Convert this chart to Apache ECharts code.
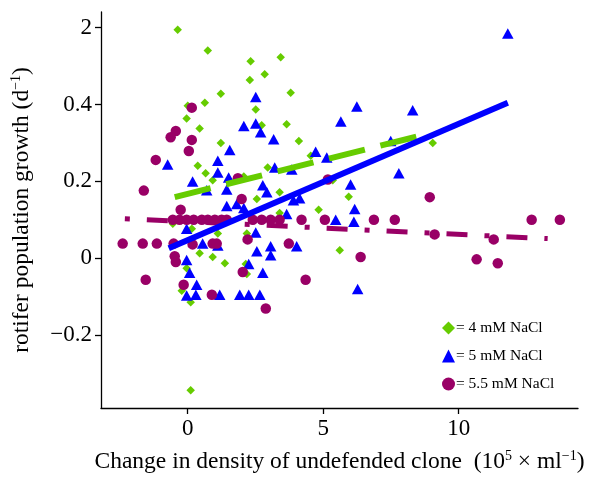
<!DOCTYPE html>
<html><head><meta charset="utf-8">
<script src="https://cdn.jsdelivr.net/npm/echarts@6/dist/echarts.min.js"></script>
<style>html,body{margin:0;padding:0;background:#fff}#c{width:594px;height:480px}</style>
</head><body><div id="c"></div>
<script>
// ---- data ----
var seriesNames = ['4 mM NaCl', '5 mM NaCl', '5.5 mM NaCl'];
var xTickValues = [0, 5, 10];
var yTickValues = [-0.2, 0, 0.2, 0.4, 0.6];
var yTickLabels = ['\u22120.2', '0', '0.2', '0.4', '2'];

var nacl4 = [
  [-0.37,0.595],[0.74,0.541],[2.32,0.513],[3.43,0.523],[2.29,0.464],[2.84,0.479],[1.22,0.428],[3.8,0.431],
  [0,0.397],[0.63,0.405],[-0.04,0.364],[0.44,0.338],[2.51,0.387],[3.65,0.349],[1.22,0.3],[2.73,0.346],
  [4.1,0.305],[0.37,0.241],[0.66,0.221],[0.92,0.203],[2.95,0.236],[3.39,0.172],[4.54,0.267],[9.04,0.30],
  [5.94,0.16],[5.35,0.203],[4.83,0.126],[5.61,0.021],[2.55,0.154],[3.39,0.118],[0.15,0.077],[1.11,0.064],
  [-0.55,0.09],[2.18,0.064],[0.44,0.013],[0.92,0.003],[1.37,-0.013],[2.18,-0.041],[-0.04,-0.026],
  [-0.22,-0.085],[0.11,-0.115],[2.14,-0.015],[0.11,-0.344],[2.07,0.213]
];
var nacl5 = [
  [11.81,0.585],[6.24,0.395],[8.3,0.385],[5.65,0.356],[7.49,0.305],[4.72,0.277],[5.13,0.262],[3.84,0.231],
  [7.79,0.221],[6.01,0.192],[4.13,0.156],[3.9,0.151],[6.16,0.128],[5.46,0.1],[6.13,0.095],[4.02,0.031],
  [6.27,-0.08],[2.51,0.42],[2.07,0.344],[2.51,0.351],[2.69,0.328],[3.17,0.31],[1.55,0.282],[-0.74,0.244],
  [1.11,0.254],[1.11,0.223],[1.51,0.21],[0.18,0.2],[3.21,0.236],[1.44,0.179],[2.77,0.19],[0.7,0.177],
  [2.92,0.172],[1.44,0.136],[1.81,0.141],[2.07,0.131],[-0.04,0.077],[2.51,0.067],[3.65,0.115],[0.55,0.038],
  [1.11,0.033],[2.55,0.018],[3.06,0.031],[3.06,0.008],[-0.04,-0.005],[0.07,-0.038],[2.25,-0.015],
  [2.77,-0.038],[0.33,-0.069],[-0.04,-0.097],[0.3,-0.095],[1.18,-0.095],[1.92,-0.095],[2.25,-0.095],[2.66,-0.095]
];
var nacl55 = [
  [0.15,0.392],[-0.44,0.331],[-0.63,0.315],[0.15,0.308],[0.04,0.279],[-1.18,0.256],[1.85,0.208],[-1.62,0.176],
  [-0.26,0.126],[1.99,0.154],[8.93,0.159],[5.17,0.205],
  [-0.55,0.1],[-0.3,0.1],[-0.04,0.1],[0.22,0.1],[0.52,0.1],[0.74,0.1],[1.0,0.1],[1.25,0.1],[1.44,0.1],
  [2.4,0.1],[2.73,0.1],[3.06,0.1],[3.39,0.1],[4.2,0.1],[5.06,0.1],[6.87,0.1],[7.64,0.1],[12.69,0.1],[13.73,0.1],
  [-2.4,0.038],[-1.66,0.038],[-1.14,0.038],[-0.52,0.038],[0.18,0.036],[0.92,0.038],[1.07,0.038],[2.21,0.049],[3.73,0.038],
  [9.11,0.062],[11.29,0.049],[10.66,-0.003],[11.44,-0.013],[6.38,0.003],[4.35,-0.056],[-0.48,0.005],[-0.44,-0.01],
  [-1.55,-0.056],[2.03,-0.036],[-0.15,-0.069],[0.89,-0.095],[2.88,-0.131]
];
var trend4 = [[-0.48,0.159],[8.7,0.321]];
var trend5 = [[-0.7,0.026],[11.81,0.405]];
var trend55 = [[-2.32,0.103],[13.28,0.051]];

// ---- styling ----
var FONT = 'Liberation Serif';
var C4 = '#66cc00', C5 = '#0000ff', C55 = '#990066';

var chart = echarts.init(document.getElementById('c'));
chart.setOption({
  animation: false,
  backgroundColor: '#fff',
  grid: { left: 101, right: 16, top: 12, bottom: 66 },
  legend: {
    data: seriesNames,
    orient: 'vertical',
    left: 437, top: 315,
    itemWidth: 13, itemHeight: 13, itemGap: 12,
    formatter: '= {name}',
    textStyle: { fontFamily: FONT, fontSize: 15.5, color: '#000', padding: [0,0,0,-4] }
  },
  xAxis: {
    type: 'value', min: -3.2, max: 14.4,
    name: 'Change in density of undefended clone  (10{sup|5} \u00d7 ml{sup|\u22121})',
    nameLocation: 'middle', nameGap: 41,
    nameTextStyle: { fontFamily: FONT, fontSize: 23.5, color: '#000', lineHeight: 26,
      rich: { sup: { fontFamily: FONT, fontSize: 14, verticalAlign: 'top', lineHeight: 26 } } },
    axisLine: { show: true, onZero: false, lineStyle: { color: '#000', width: 1.3 } },
    axisTick: { show: true, length: 6, lineStyle: { color: '#000', width: 1.3 }, customValues: xTickValues },
    axisLabel: { fontFamily: FONT, fontSize: 23, color: '#000', margin: 9, customValues: xTickValues },
    splitLine: { show: false }
  },
  yAxis: {
    type: 'value', min: -0.39, max: 0.641,
    name: 'rotifer population growth (d{sup|\u22121})',
    nameLocation: 'middle', nameGap: 66,
    nameTextStyle: { fontFamily: FONT, fontSize: 23.5, color: '#000', lineHeight: 26,
      rich: { sup: { fontFamily: FONT, fontSize: 14, verticalAlign: 'top', lineHeight: 26 } } },
    axisLine: { show: true, onZero: false, lineStyle: { color: '#000', width: 1.3 } },
    axisTick: { show: true, length: 6, lineStyle: { color: '#000', width: 1.3 }, customValues: yTickValues },
    axisLabel: { fontFamily: FONT, fontSize: 23, color: '#000', margin: 9, customValues: yTickValues,
      formatter: function (v) {
        for (var i = 0; i < yTickValues.length; i++) {
          if (Math.abs(v - yTickValues[i]) < 1e-6) return yTickLabels[i];
        }
        return '';
      } },
    splitLine: { show: false }
  },
  series: [
    { name: seriesNames[0], type: 'scatter', data: nacl4, symbol: 'diamond', symbolSize: 8.5,
      itemStyle: { color: C4, opacity: 1 }, z: 2 },
    { name: seriesNames[1], type: 'scatter', data: nacl5, symbol: 'triangle', symbolSize: [11.5, 10.5],
      itemStyle: { color: C5, opacity: 1 }, z: 3 },
    { name: seriesNames[2], type: 'scatter', data: nacl55, symbol: 'circle', symbolSize: 10.5,
      itemStyle: { color: C55, opacity: 1 }, z: 4 },
    { name: 'trend4', type: 'line', data: trend4, showSymbol: false, symbol: 'none', z: 5,
      lineStyle: { color: C4, width: 6, type: [37, 16], cap: 'butt' } },
    { name: 'trend55', type: 'line', data: trend55, showSymbol: false, symbol: 'none', z: 5,
      lineStyle: { color: C55, width: 5, type: [5, 17, 21, 17], cap: 'butt' } },
    { name: 'trend5', type: 'line', data: trend5, showSymbol: false, symbol: 'none', z: 6,
      lineStyle: { color: C5, width: 6, cap: 'butt' } }
  ]
});
</script></body></html>
